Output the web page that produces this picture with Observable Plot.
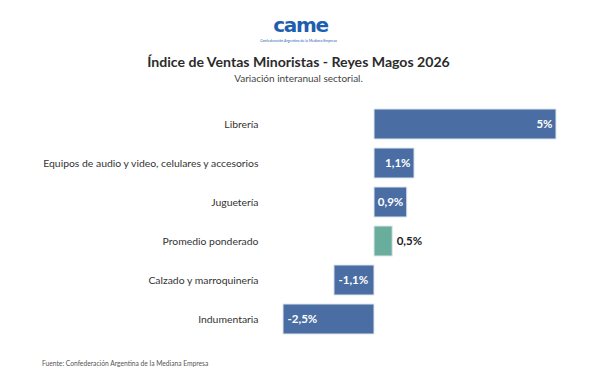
<!DOCTYPE html>
<html><head><meta charset="utf-8">
<script src="https://cdn.jsdelivr.net/npm/d3@7"></script>
<script src="https://cdn.jsdelivr.net/npm/@observablehq/plot@0.6"></script>
<style>
body{margin:0;background:#fff;font-family:Lato,sans-serif;}
#wrap{position:relative;width:597px;height:387px;overflow:hidden;}
.abs{position:absolute;left:0;width:597px;text-align:center;white-space:nowrap;}
#logo{top:18px;left:2px;font:900 20px/15px "DejaVu Sans",sans-serif;color:#1d5fae;letter-spacing:-1.3px;}
#logosub{top:39px;font-size:3.6px;line-height:4px;color:#1d5fae;}
#title{top:53px;font-size:14.1px;font-weight:700;color:#2b2b2b;}
#subtitle{top:72px;font-size:10px;color:#444;}
#chart{position:absolute;left:0;top:95px;}
#foot{position:absolute;left:42px;top:359px;font-size:6.7px;color:#555;}
</style></head>
<body><div id="wrap">
<div class="abs" id="logo">came</div>
<div class="abs" id="logosub">Confederación Argentina de la Mediana Empresa</div>
<div class="abs" id="title">Índice de Ventas Minoristas - Reyes Magos 2026</div>
<div class="abs" id="subtitle">Variación interanual sectorial.</div>
<div id="chart"></div>
<div id="foot">Fuente: Confederación Argentina de la Mediana Empresa</div>
</div>
<script>
const categories = ["Librería","Equipos de audio y video, celulares y accesorios","Juguetería","Promedio ponderado","Calzado y marroquinería","Indumentaria"];
const values = [5, 1.1, 0.9, 0.5, -1.1, -2.5];
const labels = ["5%","1,1%","0,9%","0,5%","-1,1%","-2,5%"];
const kinds = ["rubro","rubro","rubro","promedio","rubro","rubro"];
const labelInside = [true,true,true,false,true,true];

const data = categories.map((c,i)=>({cat:c,value:values[i],label:labels[i],kind:kinds[i],inside:labelInside[i]}));

const chart = Plot.plot({
  width:597, height:250,
  marginLeft:283, marginRight:41, marginTop:3, marginBottom:0,
  style:{fontFamily:"Lato, sans-serif", background:"transparent"},
  x:{domain:[-2.5,5], axis:null},
  y:{domain:categories, padding:0.235, label:null},
  color:{domain:["rubro","promedio"], range:["#4a6ea3","#69ad9c"]},
  marks:[
    Plot.barX(data,{y:"cat",x:"value",fill:"kind",stroke:"#dfe6ef",strokeWidth:1}),
    Plot.axisY({tickSize:0,tickPadding:25,fontSize:10.4,fill:"#333",label:null}),
    Plot.text(data.filter(d=>d.inside && d.value>0),{y:"cat",x:"value",text:"label",textAnchor:"end",dx:-4,fill:"white",fontWeight:"bold",fontSize:11.5}),
    Plot.text(data.filter(d=>d.inside && d.value<0),{y:"cat",x:"value",text:"label",textAnchor:"start",dx:4,fill:"white",fontWeight:"bold",fontSize:11.5}),
    Plot.text(data.filter(d=>!d.inside),{y:"cat",x:"value",text:"label",textAnchor:"start",dx:4,fill:"#222",fontWeight:"bold",fontSize:11.5})
  ]
});
document.getElementById("chart").appendChild(chart);
</script>
</body></html>
